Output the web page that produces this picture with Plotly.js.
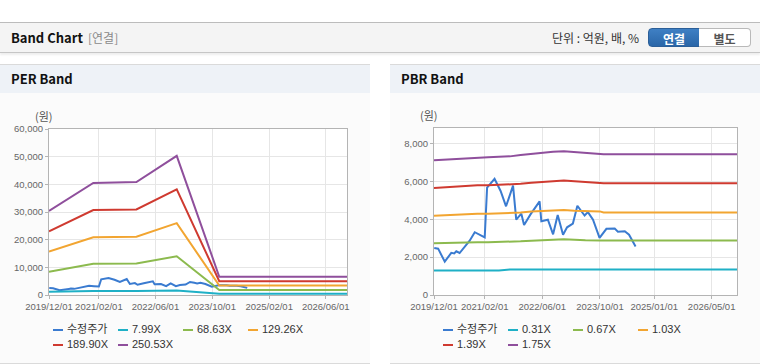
<!DOCTYPE html>
<html>
<head>
<meta charset="utf-8">
<script src="https://cdn.plot.ly/plotly-3.0.1.min.js"></script>
<style>
  html, body { margin:0; padding:0; }
  body { width:760px; height:364px; position:relative; overflow:hidden; background:#fff;
         font-family:"Noto Sans CJK KR","Noto Sans",sans-serif; }
  .abs { position:absolute; }
  #hdr { left:0; top:22px; width:760px; height:29px; background:#f4f4f4;
         border-top:1px solid #bcbcbc; border-bottom:1px solid #c6c6c6;
         box-shadow:0 2px 2px rgba(0,0,0,0.07); }
  #hdrTitle { left:11px; top:0; line-height:29px; font-size:13px; font-weight:bold; color:#111; }
  #hdrSub { left:88px; top:0; line-height:29px; font-size:12px; color:#8a8a8a; }
  #unit { left:552px; top:0; line-height:29px; font-size:12px; color:#333; }
  .btn { top:5px; height:19px; line-height:19px; font-size:12px; font-weight:bold; text-align:center; box-sizing:border-box; }
  #btn1 { left:648px; width:52px; background:linear-gradient(#3f80c4,#2a66a8); color:#fff;
          border:1px solid #2c5f98; border-radius:4px 0 0 4px; }
  #btn2 { left:699px; width:52px; background:#fff; color:#555; border:1px solid #b9b9b9;
          border-left:none; border-radius:0 4px 4px 0; }
  .panel { top:64px; width:370px; height:298px; background:#fbfbfb;
           border-top:1px solid #dadada; border-bottom:1px solid #dadada; }
  .ptitle { left:0; top:0; width:370px; height:28px; line-height:28px; background:#eef2f7;
            font-size:13px; font-weight:bold; color:#111; padding-left:11px; box-sizing:border-box; }
  .chart { top:93px; width:370px; height:270px; }
  .leg { font-family:"Liberation Sans","Noto Sans CJK KR",sans-serif; font-size:11px; color:#333; }
  .legItem { position:absolute; height:15px; line-height:15px; white-space:nowrap; }
  .legLine { position:absolute; left:0; top:7px; width:10px; height:2px; }
  .legText { position:absolute; left:14px; top:0; }
</style>
</head>
<body>
<div id="hdr" class="abs">
  <div id="hdrTitle" class="abs">Band Chart</div>
  <div id="hdrSub" class="abs">[연결]</div>
  <div id="unit" class="abs">단위 : 억원, 배, %</div>
  <div id="btn1" class="abs btn">연결</div>
  <div id="btn2" class="abs btn">별도</div>
</div>
<div class="abs panel" style="left:0"><div class="abs ptitle">PER Band</div></div>
<div class="abs panel" style="left:390px"><div class="abs ptitle">PBR Band</div></div>
<div id="perChart" class="abs chart" style="left:0"></div>
<div id="pbrChart" class="abs chart" style="left:390px"></div>
<div id="perLeg" class="abs leg" style="left:53px;top:322px;width:300px;height:32px"></div>
<div id="pbrLeg" class="abs leg" style="left:443px;top:322px;width:300px;height:32px"></div>

<script>
// ---------- data ----------
const perNames = ['수정주가', '7.99X', '68.63X', '129.26X', '189.90X', '250.53X'];
const pbrNames = ['수정주가', '0.31X', '0.67X', '1.03X', '1.39X', '1.75X'];

const perTickLabels = ['2019/12/01', '2021/02/01', '2022/06/01', '2023/10/01', '2025/02/01', '2026/06/01'];
const pbrTickLabels = ['2019/12/01', '2021/02/01', '2022/06/01', '2023/10/01', '2025/01/01', '2026/05/01'];

// adjusted share price (수정주가)
const priceDates = ['2019-12-03','2020-01-05','2020-03-01','2020-04-25','2020-05-20','2020-06-06','2020-07-04',
  '2020-08-15','2020-09-27','2020-11-09','2020-12-21','2021-02-01','2021-02-21','2021-04-25','2021-06-15',
  '2021-07-31','2021-09-28','2021-10-25','2021-12-07','2021-12-30','2022-02-21','2022-05-10','2022-05-25',
  '2022-07-19','2022-09-01','2022-10-10','2022-11-24','2022-12-28','2023-02-15','2023-03-25','2023-05-01',
  '2023-05-25','2023-06-22','2023-08-04','2023-09-28','2023-11-25','2024-02-03','2024-03-01','2024-04-28',
  '2024-06-03','2024-07-28'];
const priceValues = [2490, 2450, 1760, 2230, 2200, 2310, 2220,
  2570, 2870, 3320, 3190, 3050, 5680, 6140, 5500,
  4690, 5780, 3990, 4300, 3700, 4250, 4950, 3900,
  3980, 3210, 4230, 3190, 3580, 3780, 4720, 4400,
  4200, 4380, 3980, 3020, 3500, 3510, 3350, 3370,
  3190, 2570];

// PER band lines
const perBandDates = ['2019-12-01','2020-12-15','2021-12-20','2022-12-01','2023-12-01','2026-12-01'];
const per799   = [1150, 1450, 1450, 1600, 450, 450];
const per6863  = [8400, 11300, 11400, 14000, 1800, 1800];
const per12926 = [15700, 20900, 21050, 26000, 3400, 3400];
const per18990 = [23000, 30700, 30900, 38200, 5000, 5000];
const per25053 = [30400, 40500, 40800, 50300, 6600, 6600];

// PBR band lines
const pbrBandDates = ['2019-12-01','2020-03-01','2020-06-01','2020-09-01','2020-12-01','2021-03-01','2021-06-01',
  '2021-09-01','2021-12-01','2022-03-01','2022-06-01','2022-09-01','2022-12-01','2023-03-01','2023-06-01',
  '2023-10-01','2023-11-01','2026-12-01'];
const pbr031 = [1300, 1300, 1300, 1300, 1300, 1300, 1300, 1350, 1350, 1350, 1350, 1350, 1350, 1350, 1350, 1350, 1350, 1350];
const pbr067 = [2730, 2750, 2760, 2770, 2790, 2790, 2800, 2810, 2840, 2870, 2880, 2920, 2950, 2910, 2890, 2880, 2880, 2880];
const pbr103 = [4190, 4220, 4250, 4260, 4290, 4300, 4310, 4330, 4360, 4410, 4440, 4480, 4490, 4460, 4440, 4420, 4360, 4360];
const pbr139 = [5660, 5700, 5730, 5760, 5800, 5800, 5820, 5840, 5880, 5930, 5970, 6030, 6050, 6010, 5980, 5940, 5910, 5910];
const pbr175 = [7120, 7160, 7200, 7240, 7280, 7290, 7310, 7330, 7400, 7470, 7520, 7580, 7600, 7560, 7520, 7480, 7440, 7440];

// ---------- style ----------
const seriesColors = ['#3a7bd0', '#1fb0c6', '#8cba4e', '#f2a531', '#cf3a30', '#8f4f9c'];

function buildTraces(names, bandDates, bands) {
  const traces = [{
    x: priceDates, y: priceValues, name: names[0], type: 'scatter', mode: 'lines',
    line: { color: seriesColors[0], width: 2 }
  }];
  bands.forEach((b, i) => {
    traces.push({
      x: bandDates, y: b, name: names[i + 1], type: 'scatter', mode: 'lines',
      line: { color: seriesColors[i + 1], width: 2 }
    });
  });
  return traces;
}

function buildLayout(tickLabels, yRange, yDtick, margin) {
  const axisFont = { family: 'Liberation Sans, Arial, sans-serif', size: 9.5, color: '#666' };
  return {
    width: 370, height: 270,
    margin: margin,
    paper_bgcolor: 'rgba(0,0,0,0)',
    plot_bgcolor: '#ffffff',
    showlegend: false,
    xaxis: {
      type: 'date',
      range: ['2019-12-01', '2026-12-01'],
      tickmode: 'array',
      tickvals: tickLabels.map(s => s.replace(/\//g, '-')),
      ticktext: tickLabels,
      tickangle: 0, automargin: false,
      showgrid: true, gridcolor: '#e6e6e6', gridwidth: 1,
      showline: true, linecolor: '#b4b4b4', linewidth: 1, mirror: true,
      ticks: 'outside', ticklen: 3, tickcolor: '#b4b4b4',
      tickfont: axisFont, zeroline: false, fixedrange: true
    },
    yaxis: {
      range: yRange, dtick: yDtick, tick0: 0, tickformat: ',d', automargin: false,
      showgrid: true, gridcolor: '#e6e6e6', gridwidth: 1,
      showline: true, linecolor: '#b4b4b4', linewidth: 1, mirror: true,
      ticks: 'outside', ticklen: 3, tickcolor: '#b4b4b4',
      tickfont: axisFont, zeroline: false, fixedrange: true
    },
    annotations: [{
      text: '(원)', xref: 'paper', yref: 'paper', x: 0, y: 1,
      xanchor: 'center', yanchor: 'bottom', xshift: -5, yshift: 3, showarrow: false,
      font: { family: 'Noto Sans CJK KR, sans-serif', size: 11, color: '#555' }
    }]
  };
}

function buildLegend(id, names) {
  const el = document.getElementById(id);
  names.forEach((n, i) => {
    const item = document.createElement('div');
    item.className = 'legItem';
    item.style.left = ((i % 4) * 65) + 'px';
    item.style.top = (Math.floor(i / 4) * 15) + 'px';
    const ln = document.createElement('div');
    ln.className = 'legLine';
    ln.style.background = seriesColors[i];
    const tx = document.createElement('div');
    tx.className = 'legText';
    tx.textContent = n;
    item.appendChild(ln); item.appendChild(tx);
    el.appendChild(item);
  });
}

const cfg = { displayModeBar: false, staticPlot: true };

Plotly.newPlot('perChart',
  buildTraces(perNames, perBandDates, [per799, per6863, per12926, per18990, per25053]),
  buildLayout(perTickLabels, [0, 60000], 10000, { l: 49, r: 23, t: 36, b: 68 }),
  cfg);

Plotly.newPlot('pbrChart',
  buildTraces(pbrNames, pbrBandDates, [pbr031, pbr067, pbr103, pbr139, pbr175]),
  buildLayout(pbrTickLabels, [0, 8830], 2000, { l: 44, r: 23, t: 35, b: 68 }),
  cfg);

buildLegend('perLeg', perNames);
buildLegend('pbrLeg', pbrNames);
</script>
</body>
</html>
